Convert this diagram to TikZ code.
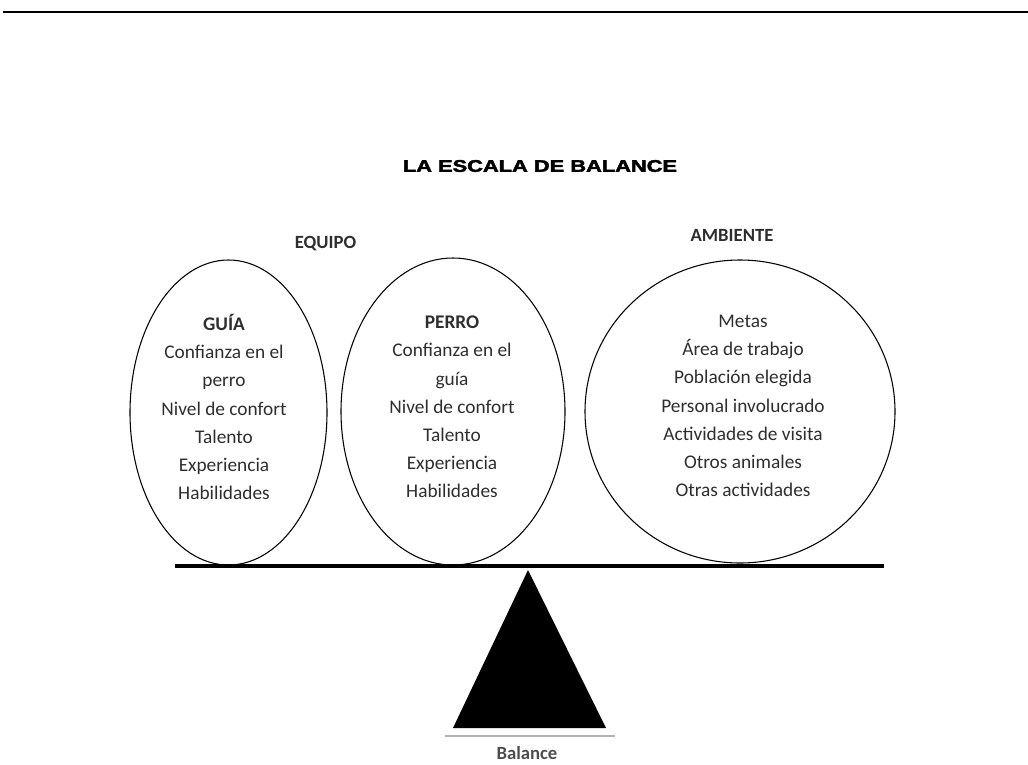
\documentclass[tikz,border=0pt]{standalone}
\usepackage{fontspec}
\setmainfont{Carlito}
\newfontfamily\titlefont[BoldFeatures={FakeBold=2.2}]{Liberation Sans}
\usetikzlibrary{shapes.geometric}
\definecolor{txt}{HTML}{2E2E2E}
\begin{document}
\begin{tikzpicture}[x=0.75pt,y=-0.75pt,
  oval/.style={draw=black,line width=0.8pt,ellipse,inner sep=0pt},
  body/.style={align=center,text=txt,font=\fontsize{14.5}{21.15}\selectfont,inner sep=0pt},
  head/.style={text=txt,font=\fontsize{14}{16}\selectfont\bfseries,inner sep=0pt}]
\useasboundingbox (0,0) rectangle (1028,764);
% top rule
\coordinate (r1) at (3,12);
\coordinate (r2) at (1028,12);
\draw[line width=1.5pt] (r1) -- (r2);
% title
\node[inner sep=0pt] (title) at (540,166) {\scalebox{1.3}[1]{\titlefont\fontsize{12.6}{14}\selectfont\bfseries LA ESCALA DE BALANCE}};
\node[head] (equipo) at (325.5,244) {EQUIPO};
\node[head] (ambiente) at (732,235) {AMBIENTE};
% ovals
\node[oval,minimum width=197*0.75pt,minimum height=305*0.75pt] (guia) at (228.5,412.5) {};
\node[oval,minimum width=224*0.75pt,minimum height=307*0.75pt] (perro) at (453,411.5) {};
\node[oval,minimum width=310*0.75pt,minimum height=303*0.75pt] (amb) at (740,411.5) {};
% texts
\node[body] (tguia) at (224,407) {\textbf{GUÍA}\\Confianza en el\\perro\\Nivel de confort\\Talento\\Experiencia\\Habilidades};
\node[body] (tperro) at (452,407) {\textbf{PERRO}\\Confianza en el\\guía\\Nivel de confort\\Talento\\Experiencia\\Habilidades};
\node[body] (tamb) at (743,406) {Metas\\Área de trabajo\\Población elegida\\Personal involucrado\\Actividades de visita\\Otros animales\\Otras actividades};
% beam
\coordinate (b1) at (175,566);
\coordinate (b2) at (884,566);
\draw[line width=3pt] (b1) -- (b2);
% fulcrum
\coordinate (apex) at (528,570);
\coordinate (bl) at (453,728);
\coordinate (br) at (606,728);
\fill[black] (apex) -- (bl) -- (br) -- cycle;
\coordinate (g1) at (445,736);
\coordinate (g2) at (615,736);
\draw[line width=1.5pt,gray!60] (g1) -- (g2);
\node[head,text=txt!85] (bal) at (527,753) {Balance};
\end{tikzpicture}
\end{document}
